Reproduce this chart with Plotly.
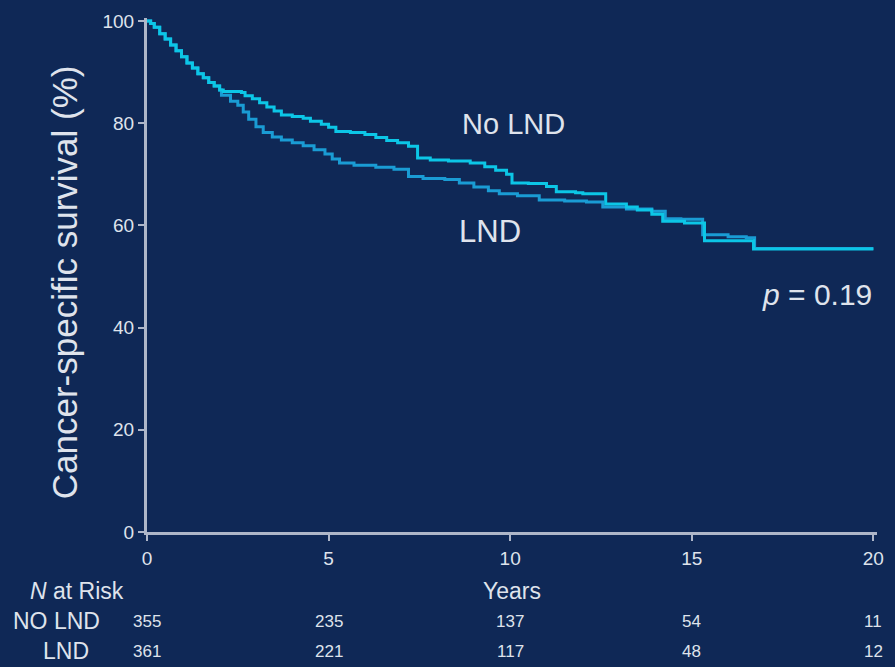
import plotly.graph_objects as go

# ---- data ----
nolnd_t = [0, 0.1, 0.2, 0.35, 0.5, 0.65, 0.8, 0.95, 1.1, 1.25, 1.4, 1.55, 1.7, 1.85, 2.0,
           2.1, 2.6, 2.7, 2.9, 3.1, 3.3, 3.5, 3.7, 4.0, 4.3, 4.5, 4.8, 5.0, 5.2, 5.6, 6.0,
           6.3, 6.6, 6.9, 7.2, 7.45, 7.8, 8.3, 8.9, 9.3, 9.6, 9.9, 10.05, 10.5, 11.0, 11.27,
           11.8, 12.0, 12.63, 13.2, 13.5, 13.9, 14.2, 14.8, 15.35, 16.0, 16.7, 20.0]
nolnd_s = [100, 99.5, 98.8, 97.5, 96.5, 95.3, 94.2, 93.0, 91.8, 90.8, 89.7, 88.9, 88.0, 87.3, 86.5,
           86.2, 86.0, 85.4, 84.8, 84.0, 83.2, 82.4, 81.6, 81.3, 81.0, 80.4, 79.8, 79.2, 78.4, 78.2, 77.8,
           77.2, 76.6, 76.2, 75.5, 73.2, 72.8, 72.6, 72.2, 71.5, 70.8, 70.0, 68.3, 68.2, 67.6, 66.6,
           66.4, 66.2, 64.2, 63.6, 63.0, 62.2, 60.8, 60.5, 57.0, 57.0, 55.4, 55.4]

lnd_t = [0, 0.1, 0.2, 0.35, 0.5, 0.65, 0.8, 0.95, 1.1, 1.25, 1.4, 1.55, 1.7, 1.85, 2.0,
         2.05, 2.3, 2.5, 2.65, 2.8, 3.0, 3.2, 3.45, 3.7, 4.0, 4.3, 4.6, 4.9, 5.1, 5.3, 5.7,
         6.3, 6.8, 7.2, 7.6, 8.2, 8.6, 9.0, 9.4, 9.7, 10.2, 10.8, 11.5, 12.1, 12.55, 13.2,
         13.9, 14.27, 14.7, 15.3, 16.0, 16.5, 16.73, 20.0]
lnd_s = [100, 99.5, 98.8, 97.5, 96.5, 95.3, 94.2, 93.0, 91.8, 90.8, 89.7, 88.9, 88.0, 87.3, 86.5,
         85.5, 84.3, 83.5, 82.2, 80.8, 79.3, 78.2, 77.3, 76.7, 76.2, 75.6, 74.8, 74.0, 73.0, 72.2, 71.8,
         71.4, 71.0, 69.6, 69.2, 69.0, 68.3, 67.5, 66.8, 66.2, 65.8, 65.0, 64.8, 64.6, 63.6, 63.2,
         62.8, 61.3, 61.2, 58.2, 57.8, 57.6, 55.5, 55.5]

risk_years = [0, 5, 10, 15, 20]
risk_nolnd = ["355", "235", "137", "54", "11"]
risk_lnd = ["361", "221", "117", "48", "12"]
x_ticks = [0, 5, 10, 15, 20]
y_ticks = [0, 20, 40, 60, 80, 100]

BG = "#0f2856"
TXT = "#dfe3ec"
AX = "#aeb6c8"
SANS = "Liberation Sans, Arial, sans-serif"

XMAX = 20.1
W_PLOT = 895 - 147 - 11
H_PLOT = 667 - 15 - 135


def px_x(p):
    return (p - 147) / W_PLOT


def px_y(p):
    return (532 - p) / H_PLOT


fig = go.Figure()
fig.add_trace(go.Scatter(x=lnd_t, y=lnd_s, mode="lines", line_shape="hv",
                         line=dict(color="#1a9cd4", width=3), name="LND"))
fig.add_trace(go.Scatter(x=nolnd_t, y=nolnd_s, mode="lines", line_shape="hv",
                         line=dict(color="#0cc6e6", width=3), name="No LND"))

fig.update_layout(
    width=895, height=667,
    paper_bgcolor=BG, plot_bgcolor=BG,
    margin=dict(l=147, r=11, t=15, b=135),
    showlegend=False,
    xaxis=dict(range=[0, XMAX], tickvals=x_ticks, ticks="outside", ticklen=6, tickwidth=2,
               tickcolor=AX, showline=True, linecolor=AX, linewidth=3, showgrid=False,
               zeroline=False, ticklabelstandoff=1,
               tickfont=dict(family=SANS, size=19, color=TXT)),
    yaxis=dict(range=[0, 100.6], tickvals=y_ticks, ticks="outside", ticklen=6, tickwidth=2,
               tickcolor=AX, showline=True, linecolor=AX, linewidth=3, showgrid=False,
               zeroline=False, ticklabelstandoff=0,
               tickfont=dict(family=SANS, size=19, color=TXT)),
)

ann = []
ann.append(dict(text="Cancer-specific survival (%)", xref="paper", yref="paper",
                x=px_x(64), y=px_y(281), textangle=-90, showarrow=False,
                xanchor="center", yanchor="middle",
                font=dict(family=SANS, size=35, color=TXT)))
ann.append(dict(text="No LND", xref="x", yref="y", x=10.1, y=79.8, showarrow=False,
                xanchor="center", font=dict(family=SANS, size=29, color=TXT)))
ann.append(dict(text="LND", xref="x", yref="y", x=9.44, y=58.8, showarrow=False,
                xanchor="center", font=dict(family=SANS, size=31, color=TXT)))
ann.append(dict(text="<i>p</i> = 0.19", xref="paper", yref="paper", x=px_x(881), y=px_y(293),
                showarrow=False, xanchor="right", yanchor="middle",
                font=dict(family=SANS, size=30, color=TXT)))
ann.append(dict(text="Years", xref="paper", yref="paper", x=px_x(515), y=px_y(591),
                showarrow=False, xanchor="center", yanchor="middle",
                font=dict(family=SANS, size=23, color=TXT)))
ann.append(dict(text="<i>N</i> at Risk", xref="paper", yref="paper", x=px_x(76), y=px_y(591),
                showarrow=False, xanchor="center", yanchor="middle",
                font=dict(family=SANS, size=23, color=TXT)))
ann.append(dict(text="NO LND", xref="paper", yref="paper", x=px_x(55.5), y=px_y(622),
                showarrow=False, xanchor="center", yanchor="middle",
                font=dict(family=SANS, size=23, color=TXT)))
ann.append(dict(text="LND", xref="paper", yref="paper", x=px_x(65), y=px_y(652),
                showarrow=False, xanchor="center", yanchor="middle",
                font=dict(family=SANS, size=23, color=TXT)))
for yr, a, b in zip(risk_years, risk_nolnd, risk_lnd):
    xx = yr / XMAX
    ann.append(dict(text=a, xref="paper", yref="paper", x=xx, y=px_y(622), showarrow=False,
                    xanchor="center", yanchor="middle",
                    font=dict(family=SANS, size=17, color=TXT)))
    ann.append(dict(text=b, xref="paper", yref="paper", x=xx, y=px_y(652), showarrow=False,
                    xanchor="center", yanchor="middle",
                    font=dict(family=SANS, size=17, color=TXT)))
fig.update_layout(annotations=ann)

fig.write_html("out.html")
